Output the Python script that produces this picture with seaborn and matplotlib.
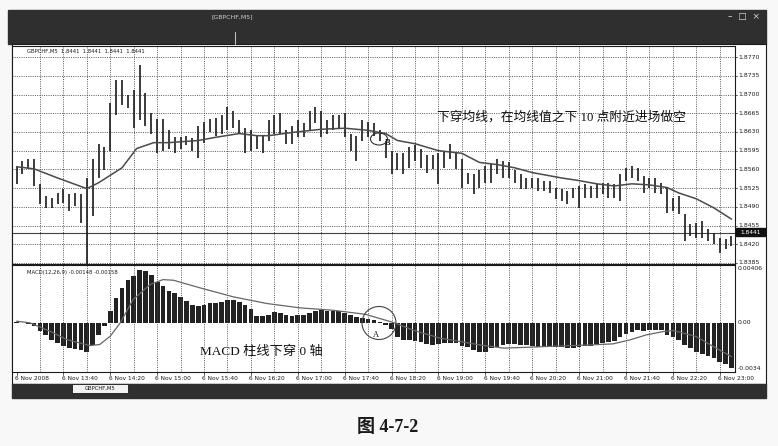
import matplotlib
matplotlib.use("Agg")
import matplotlib.pyplot as plt
import matplotlib.transforms as mtransforms
from matplotlib.patches import Rectangle, Ellipse
import seaborn as sns

# ---------------------------------------------------------------------------
# DATA  (GBPCHF M5, 6 Nov 2008, bar 0 = 13:00)
# ---------------------------------------------------------------------------
highs = [
    1.8567, 1.8576, 1.8580, 1.8580, 1.8533, 1.8511, 1.8507, 1.8516, 1.8524, 1.8514,
    1.8516, 1.8514, 1.8544, 1.8580, 1.8608, 1.8601, 1.8684, 1.8727, 1.8727, 1.8699,
    1.8708, 1.8755, 1.8702, 1.8665, 1.8655, 1.8655, 1.8633, 1.8620, 1.8620, 1.8623,
    1.8618, 1.8642, 1.8648, 1.8655, 1.8657, 1.8661, 1.8676, 1.8670, 1.8652, 1.8637,
    1.8633, 1.8623, 1.8623, 1.8652, 1.8661, 1.8665, 1.8633, 1.8642, 1.8652, 1.8646,
    1.8670, 1.8676, 1.8670, 1.8652, 1.8661, 1.8661, 1.8665, 1.8627, 1.8623, 1.8652,
    1.8648, 1.8646, 1.8633, 1.8614, 1.8595, 1.8590, 1.8591, 1.8601, 1.8605, 1.8599,
    1.8586, 1.8586, 1.8590, 1.8595, 1.8608, 1.8591, 1.8580, 1.8554, 1.8552, 1.8558,
    1.8567, 1.8571, 1.8580, 1.8576, 1.8573, 1.8558, 1.8552, 1.8544, 1.8544, 1.8543,
    1.8539, 1.8539, 1.8526, 1.8524, 1.8520, 1.8526, 1.8529, 1.8533, 1.8529, 1.8533,
    1.8535, 1.8535, 1.8533, 1.8552, 1.8563, 1.8567, 1.8563, 1.8548, 1.8544, 1.8543,
    1.8535, 1.8526, 1.8507, 1.8511, 1.8477, 1.8458, 1.8460, 1.8464, 1.8449, 1.8441,
    1.8432, 1.8430, 1.8435,
]
lows = [
    1.8533, 1.8552, 1.8561, 1.8529, 1.8495, 1.8488, 1.8488, 1.8495, 1.8497, 1.8482,
    1.8492, 1.8460, 1.8382, 1.8473, 1.8543, 1.8558, 1.8595, 1.8661, 1.8680, 1.8674,
    1.8637, 1.8652, 1.8642, 1.8627, 1.8590, 1.8595, 1.8599, 1.8591, 1.8599, 1.8605,
    1.8595, 1.8582, 1.8610, 1.8629, 1.8623, 1.8627, 1.8633, 1.8637, 1.8627, 1.8591,
    1.8595, 1.8599, 1.8590, 1.8614, 1.8627, 1.8627, 1.8608, 1.8608, 1.8620, 1.8620,
    1.8633, 1.8646, 1.8620, 1.8627, 1.8633, 1.8638, 1.8620, 1.8595, 1.8576, 1.8614,
    1.8620, 1.8623, 1.8614, 1.8582, 1.8552, 1.8558, 1.8552, 1.8563, 1.8576, 1.8563,
    1.8554, 1.8561, 1.8533, 1.8563, 1.8580, 1.8561, 1.8526, 1.8533, 1.8514, 1.8526,
    1.8535, 1.8535, 1.8552, 1.8543, 1.8544, 1.8535, 1.8524, 1.8524, 1.8526, 1.8520,
    1.8520, 1.8516, 1.8505, 1.8501, 1.8495, 1.8507, 1.8488, 1.8507, 1.8507, 1.8507,
    1.8514, 1.8507, 1.8507, 1.8501, 1.8539, 1.8543, 1.8539, 1.8516, 1.8526, 1.8516,
    1.8514, 1.8479, 1.8482, 1.8477, 1.8426, 1.8435, 1.8432, 1.8432, 1.8426, 1.8420,
    1.8403, 1.8411, 1.8417,
]
bar_idx = list(range(len(highs)))

# moving average, read at sampled bars
ma_bar = [0, 3, 7, 12, 14, 18, 20.5, 23.4, 26, 31, 34, 38, 41, 43, 47, 52, 56, 60,
          63, 65, 68, 72, 76, 79, 82, 85, 88, 93, 96, 99, 102, 105, 108, 111, 113,
          116, 119, 122]
ma_val = [1.8565, 1.8561, 1.8544, 1.8524, 1.8535, 1.8563, 1.8599, 1.8610, 1.8610,
          1.8614, 1.8620, 1.8627, 1.8623, 1.8623, 1.8629, 1.8635, 1.8637, 1.8633,
          1.8627, 1.8614, 1.8608, 1.8595, 1.8590, 1.8573, 1.8569, 1.8563, 1.8554,
          1.8544, 1.8539, 1.8533, 1.8529, 1.8533, 1.8531, 1.8526, 1.8516, 1.8505,
          1.8488, 1.8467]

macd_hist = [
    0.00005, 0.0, -0.0001, -0.00025, -0.00063, -0.00095, -0.00126, -0.00151, -0.00171, -0.00188,
    -0.00196, -0.00201, -0.00221, -0.00163, -0.00095, -0.00025, 0.00088, 0.00188, 0.00264, 0.00326,
    0.00356, 0.00397, 0.00389, 0.00364, 0.00306, 0.00276, 0.00238, 0.00226, 0.00196, 0.00163,
    0.00138, 0.00126, 0.00131, 0.00151, 0.00151, 0.00156, 0.00176, 0.00171, 0.00156, 0.00131,
    0.00105, 0.00055, 0.00055, 0.00063, 0.00080, 0.00075, 0.00063, 0.00055, 0.00063, 0.00063,
    0.00075, 0.00093, 0.00100, 0.00088, 0.00088, 0.00088, 0.00078, 0.00060, 0.00045, 0.00033,
    0.00030, 0.00020, 0.00008, -0.00014, -0.00046, -0.00108, -0.00128, -0.00128, -0.00133, -0.00141,
    -0.00158, -0.00166, -0.00158, -0.00148, -0.00148, -0.00148, -0.00173, -0.00183, -0.00203, -0.00216,
    -0.00223, -0.00191, -0.00178, -0.00166, -0.00158, -0.00158, -0.00166, -0.00166, -0.00173, -0.00178,
    -0.00183, -0.00183, -0.00183, -0.00183, -0.00186, -0.00186, -0.00183, -0.00173, -0.00173, -0.00158,
    -0.00153, -0.00141, -0.00133, -0.00103, -0.00083, -0.00065, -0.00053, -0.00058, -0.00053, -0.00053,
    -0.00053, -0.00090, -0.00103, -0.00128, -0.00166, -0.00191, -0.00216, -0.00233, -0.00249, -0.00266,
    -0.00291, -0.00309, -0.00338,
]
signal_bar = [0, 2.3, 5.7, 8.6, 12.5, 14.2, 16, 17.7, 19.9, 22.8, 25, 26.8, 31.3, 37,
              42.7, 48.4, 54, 59.5, 64.3, 68, 72.3, 79.1, 83.1, 87.6, 93.3, 97.9,
              101.8, 104.7, 107.5, 110.4, 112.1, 116, 118.9, 122]
signal_val = [0.00013, 0.0, -0.00063, -0.00126, -0.00171, -0.00163, -0.00100, 0.0,
              0.00176, 0.00289, 0.00326, 0.00321, 0.00264, 0.00196, 0.00146, 0.00113,
              0.00095, 0.00065, 0.00003, -0.00060, -0.00115, -0.00166, -0.00190,
              -0.00183, -0.00173, -0.00166, -0.00158, -0.00128, -0.00090, -0.00065,
              -0.00058, -0.00103, -0.00178, -0.00254]

price_ticks = [1.8770, 1.8735, 1.8700, 1.8665, 1.8630, 1.8595, 1.8560, 1.8525,
               1.8490, 1.8455, 1.8420, 1.8385]
bid_price = 1.8441
macd_ticks = [0.00406, 0.0, -0.0034]
macd_tick_labels = ["0.00406", "0.00", "-0.0034"]
time_bars = list(range(0, 121, 8))
time_labels = ["6 Nov 2008", "6 Nov 13:40", "6 Nov 14:20", "6 Nov 15:00",
               "6 Nov 15:40", "6 Nov 16:20", "6 Nov 17:00", "6 Nov 17:40",
               "6 Nov 18:20", "6 Nov 19:00", "6 Nov 19:40", "6 Nov 20:20",
               "6 Nov 21:00", "6 Nov 21:40", "6 Nov 22:20", "6 Nov 23:00"]

# ---------------------------------------------------------------------------
# LAYOUT (pixel boxes of the 778 x 446 picture)
# ---------------------------------------------------------------------------
W, H = 778, 446
DARK = "#2f2f2f"
INK = "#1a1a1a"
CJK = ["Liberation Serif", "Noto Sans CJK SC"]


def rect(x0, y0, x1, y1):
    return [x0 / W, 1 - y1 / H, (x1 - x0) / W, (y1 - y0) / H]


sns.set_theme(style="white")
plt.rcParams["font.family"] = ["DejaVu Sans", "Noto Sans CJK SC"]

fig = plt.figure(figsize=(W / 100, H / 100), dpi=100)
fig.patch.set_facecolor("#f8f8f8")

bg = fig.add_axes([0, 0, 1, 1], zorder=0)
bg.set_xlim(0, W)
bg.set_ylim(H, 0)
bg.axis("off")
bg.add_patch(Rectangle((8, 10), 758, 34, color=DARK))
bg.add_patch(Rectangle((12, 44), 754, 340, facecolor="white", edgecolor=INK, lw=0.8))
bg.add_patch(Rectangle((12, 384), 754, 14, color=DARK))
bg.add_patch(Rectangle((72, 384), 56, 9, facecolor="#f2f2f2", edgecolor=INK, lw=0.6))
bg.text(100, 388.5, "GBPCHF,M5", fontsize=3.8, ha="center", va="center", color=INK)
bg.text(232, 17, "[GBPCHF,M5]", fontsize=4.5, ha="center", va="center", color="#cfcfcf")
bg.text(744, 17, "–  □  ×", fontsize=6.5, ha="center", va="center", color="#d8d8d8")
bg.plot([235, 235], [32, 44], color="#bbbbbb", lw=0.8)
bg.text(388, 428, "图 4-7-2", fontsize=13, ha="center", va="center",
        color=INK, family=CJK, weight="bold")

XMIN, XMAX = -0.77, 122.6
dotted = (0, (1.2, 1.5))

# ---- price panel ----
ax_p = fig.add_axes(rect(12, 46, 735, 264), zorder=1)
ax_p.set_facecolor("white")
for lvl in price_ticks:
    ax_p.axhline(lvl, color="#444444", lw=0.6, ls=dotted)
for b in range(4, 123, 4):
    ax_p.axvline(b, color="#444444", lw=0.6, ls=dotted)
ax_p.axhline(bid_price, color="#444444", lw=0.8)
ax_p.vlines(bar_idx, lows, highs, color=INK, lw=1.2)
sns.lineplot(x=ma_bar, y=ma_val, ax=ax_p, color="#4a4a4a", lw=1.1, sort=False)
ax_p.set_xlim(XMIN, XMAX)
ax_p.set_ylim(1.83831, 1.87907)
ax_p.set_xticks([])
ax_p.set_yticks([])
ax_p.set_xlabel("")
ax_p.set_ylabel("")
tr_p = mtransforms.blended_transform_factory(ax_p.transAxes, ax_p.transData)
for lvl in price_ticks:
    ax_p.text(1.004, lvl, f"{lvl:.4f}", transform=tr_p, fontsize=4.4,
              va="center", ha="left", color=INK, clip_on=False)
    ax_p.plot([1.0, 1.003], [lvl, lvl], transform=tr_p, color=INK, lw=0.5, clip_on=False)
ax_p.text(15 / 723, 0.975, "GBPCHF,M5  1.8441  1.8441  1.8441  1.8441",
          transform=ax_p.transAxes, fontsize=3.8, va="center", ha="left", color=INK)

# ---- MACD panel ----
ax_m = fig.add_axes(rect(12, 265, 735, 372), zorder=1)
ax_m.set_facecolor("white")
for b in range(4, 123, 4):
    ax_m.axvline(b, color="#444444", lw=0.6, ls=dotted)
sns.barplot(x=bar_idx, y=macd_hist, ax=ax_m, native_scale=True, color="#222222",
            saturation=1, width=0.8, errorbar=None, linewidth=0)
sns.lineplot(x=signal_bar, y=signal_val, ax=ax_m, color="#666666", lw=0.9, sort=False)
ax_m.set_xlim(XMIN, XMAX)
ax_m.set_ylim(-0.0037, 0.00436)
ax_m.set_xticks([])
ax_m.set_yticks([])
ax_m.set_xlabel("")
ax_m.set_ylabel("")
tr_m = mtransforms.blended_transform_factory(ax_m.transAxes, ax_m.transData)
for v, lab in zip(macd_ticks, macd_tick_labels):
    ax_m.text(1.004, v, lab, transform=tr_m, fontsize=4.4, va="center", ha="left",
              color=INK, clip_on=False)
ax_m.text(15 / 723, 0.93, "MACD(12,26,9) -0.00148 -0.00158",
          transform=ax_m.transAxes, fontsize=3.8, va="center", ha="left", color=INK)
tr_t = mtransforms.blended_transform_factory(ax_m.transData, ax_m.transAxes)
for b, lab in zip(time_bars, time_labels):
    ax_m.plot([b, b], [0, -0.03], transform=tr_t, color=INK, lw=0.5, clip_on=False)
    ax_m.text(b - 0.3, -0.04, lab, transform=tr_t, fontsize=4.2, va="top", ha="left",
              color=INK, clip_on=False)

for ax in (ax_p, ax_m):
    for sp in ax.spines.values():
        sp.set_visible(True)
        sp.set_color(INK)
        sp.set_linewidth(0.8)

# ---- overlay: annotations ----
top = fig.add_axes([0, 0, 1, 1], zorder=5)
top.set_xlim(0, W)
top.set_ylim(H, 0)
top.axis("off")
top.patch.set_alpha(0)
top.add_patch(Rectangle((736, 228), 29, 8, color="#111111"))
top.text(750.5, 232, f"{bid_price:.4f}", fontsize=4.2, ha="center", va="center", color="white")
top.add_patch(Ellipse((379, 139), 17, 12, fill=False, ec="#333333", lw=0.8))
top.text(388, 143, "B", fontsize=6, ha="center", va="center", color=INK,
         family="Liberation Serif", weight="bold")
top.add_patch(Ellipse((379, 323), 34, 33, fill=False, ec="#444444", lw=0.8))
top.text(376, 335, "A", fontsize=6, ha="center", va="center", color=INK,
         family="Liberation Serif")
top.text(437, 117, "下穿均线，在均线值之下 10 点附近进场做空", fontsize=9.2,
         ha="left", va="center", color="#111111", family=CJK)
top.text(200, 352, "MACD 柱线下穿 0 轴", fontsize=9.5, ha="left", va="center",
         color="#111111", family=CJK)

fig.savefig("out.png", dpi=100)
